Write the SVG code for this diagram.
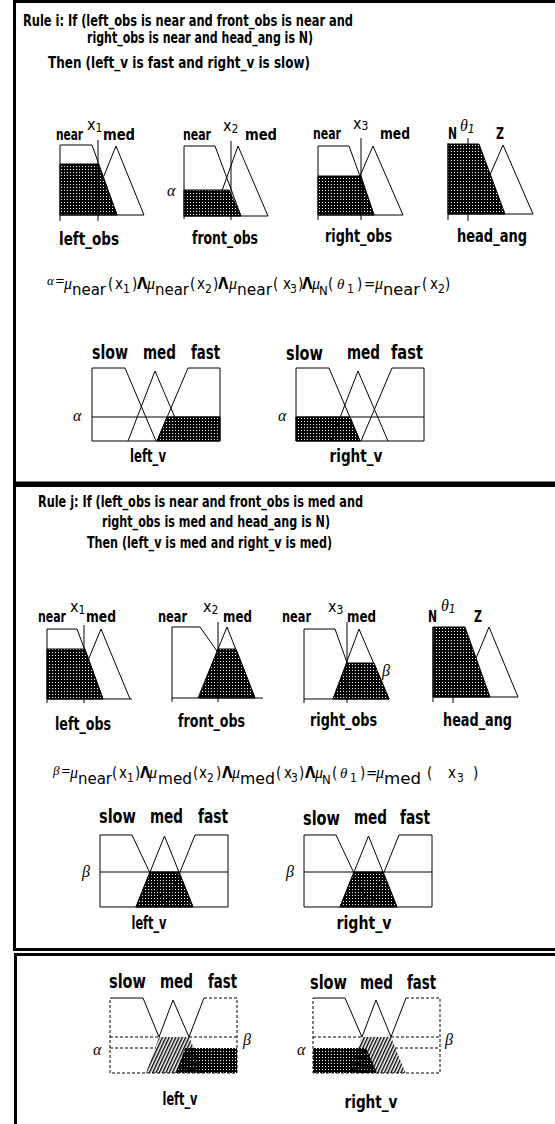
<svg xmlns="http://www.w3.org/2000/svg" width="555" height="1124" viewBox="0 0 555 1124">
<defs>
<style>
.b{font-family:"Liberation Sans Narrow","Arial Narrow","DejaVu Sans Condensed","Liberation Sans",sans-serif;font-weight:bold;fill:#000}
.r{font-family:"Liberation Sans Narrow","Arial Narrow","DejaVu Sans Condensed","Liberation Sans",sans-serif;font-weight:normal;fill:#000}
.gi{font-family:"Liberation Serif","DejaVu Serif",serif;font-style:italic;fill:#000}
.ln{fill:none;stroke:#000;stroke-width:1}
.dsh{fill:none;stroke:#000;stroke-width:1;stroke-dasharray:3 2}
.dot{fill:url(#dots);stroke:#000;stroke-width:1}
.hat{fill:url(#hatch);stroke:none}
.frame{fill:none;stroke:#000;stroke-width:3}
.m{text-anchor:middle}
</style>
<pattern id="dots" width="3" height="3" patternUnits="userSpaceOnUse"><rect width="3" height="3" fill="#000"/><rect x="1" y="1" width="1" height="1" fill="#fff"/></pattern>
<pattern id="hatch" width="3" height="3" patternUnits="userSpaceOnUse" patternTransform="rotate(25)"><rect width="1.4" height="3" fill="#000"/></pattern>
</defs>
<rect width="555" height="1124" fill="#fff"/>

<g id="frames">
<rect class="frame" x="14.5" y="1.5" width="600" height="481.5"/>
<rect class="frame" x="14.5" y="485.5" width="600" height="464"/>
<rect class="frame" x="15.5" y="954.5" width="600" height="300"/>
</g>

<!-- ================= PANEL 1 ================= -->
<g id="rule-i-text">
<text class="b" font-size="16" x="23" y="26" textLength="330" lengthAdjust="spacingAndGlyphs">Rule i: If (left_obs is near and front_obs is near and</text>
<text class="b" font-size="16" x="87" y="43" textLength="226" lengthAdjust="spacingAndGlyphs">right_obs is near and head_ang is N)</text>
<text class="b" font-size="16" x="48" y="68" textLength="262" lengthAdjust="spacingAndGlyphs">Then (left_v is fast and right_v is slow)</text>
</g>

<g id="p1-left-obs">
<polyline class="ln" points="88,215 116,146 144,215"/>
<polygon class="dot" points="60,164 98,164 117,215 60,215"/>
<polyline class="ln" points="60,145 92,145 117,215"/>
<line class="ln" x1="60" y1="145" x2="60" y2="221"/>
<line class="ln" x1="60" y1="215" x2="144" y2="215"/>
<line class="ln" x1="98" y1="140" x2="98" y2="221"/>
<text class="b" font-size="16" x="56" y="140" textLength="27" lengthAdjust="spacingAndGlyphs">near</text>
<text class="r" font-size="16" x="87" y="130">x<tspan font-size="12" dy="2">1</tspan></text>
<text class="b" font-size="16" x="103" y="140" textLength="32" lengthAdjust="spacingAndGlyphs">med</text>
<text class="b" font-size="17" x="59" y="245" textLength="60" lengthAdjust="spacingAndGlyphs">left_obs</text>
</g>

<g id="p1-front-obs">
<polyline class="ln" points="213,216 238,146 268,216"/>
<polygon class="dot" points="184,190 229,190 241,216 184,216"/>
<polyline class="ln" points="184,146 215,146 241,216"/>
<line class="ln" x1="184" y1="146" x2="184" y2="219"/>
<line class="ln" x1="184" y1="216" x2="268" y2="216"/>
<line class="ln" x1="231" y1="141" x2="231" y2="220"/>
<text class="gi" font-size="16" x="167" y="196">α</text>
<text class="b" font-size="16" x="183" y="140" textLength="28" lengthAdjust="spacingAndGlyphs">near</text>
<text class="r" font-size="16" x="223" y="131">x<tspan font-size="12" dy="2">2</tspan></text>
<text class="b" font-size="16" x="245" y="140" textLength="32" lengthAdjust="spacingAndGlyphs">med</text>
<text class="b" font-size="17" x="192" y="244" textLength="66" lengthAdjust="spacingAndGlyphs">front_obs</text>
</g>

<g id="p1-right-obs">
<polyline class="ln" points="343,215 373,146 403,215"/>
<polygon class="dot" points="318,176 361,176 374,215 318,215"/>
<polyline class="ln" points="318,146 349,146 374,215"/>
<line class="ln" x1="318" y1="146" x2="318" y2="220"/>
<line class="ln" x1="318" y1="215" x2="403" y2="215"/>
<line class="ln" x1="361" y1="138" x2="361" y2="220"/>
<text class="b" font-size="16" x="313" y="139" textLength="28" lengthAdjust="spacingAndGlyphs">near</text>
<text class="r" font-size="16" x="353" y="129">x<tspan font-size="12" dy="1">3</tspan></text>
<text class="b" font-size="16" x="380" y="139" textLength="30" lengthAdjust="spacingAndGlyphs">med</text>
<text class="b" font-size="17" x="325" y="242" textLength="67" lengthAdjust="spacingAndGlyphs">right_obs</text>
</g>

<g id="p1-head-ang">
<polyline class="ln" points="473,214 503,145 533,214"/>
<polygon class="dot" points="448,144 479,144 505,214 448,214"/>
<line class="ln" x1="448" y1="143" x2="448" y2="220"/>
<line class="ln" x1="448" y1="214" x2="533" y2="214"/>
<line class="ln" x1="468" y1="138" x2="468" y2="144"/>
<line class="ln" x1="468" y1="214" x2="468" y2="221"/>
<text class="b" font-size="16" x="448" y="139" textLength="9" lengthAdjust="spacingAndGlyphs">N</text>
<text class="gi" font-size="16" x="460" y="131">θ<tspan class="r" font-size="12" dy="2">1</tspan></text>
<text class="b" font-size="16" x="496" y="139" textLength="8" lengthAdjust="spacingAndGlyphs">Z</text>
<text class="b" font-size="17" x="457" y="242" textLength="70" lengthAdjust="spacingAndGlyphs">head_ang</text>
</g>

<g id="p1-formula">
<text class="gi" font-size="13" x="47" y="285">α</text><text class="r" font-size="13" x="55" y="285">=</text>
<text class="gi" font-size="16" x="64" y="289">μ</text>
<text class="r" font-size="15" x="72" y="295" textLength="34" lengthAdjust="spacingAndGlyphs">near</text>
<text class="r" font-size="15" x="108" y="289">(</text><text class="r" font-size="15" x="115" y="289">x</text><text class="r" font-size="12" x="123" y="293">1</text><text class="r" font-size="15" x="132" y="289">)</text>
<text class="b" font-size="15" x="137" y="289">Λ</text>
<text class="gi" font-size="16" x="147" y="289">μ</text>
<text class="r" font-size="15" x="155" y="295" textLength="34" lengthAdjust="spacingAndGlyphs">near</text>
<text class="r" font-size="15" x="190" y="289">(</text><text class="r" font-size="15" x="197" y="289">x</text><text class="r" font-size="12" x="205" y="293">2</text><text class="r" font-size="15" x="213" y="289">)</text>
<text class="b" font-size="15" x="218" y="289">Λ</text>
<text class="gi" font-size="16" x="229" y="289">μ</text>
<text class="r" font-size="15" x="237" y="295" textLength="35" lengthAdjust="spacingAndGlyphs">near</text>
<text class="r" font-size="15" x="273" y="289">(</text><text class="r" font-size="15" x="283" y="289">x</text><text class="r" font-size="12" x="290" y="293">3</text><text class="r" font-size="15" x="298" y="289">)</text>
<text class="b" font-size="15" x="302" y="289">Λ</text>
<text class="gi" font-size="16" x="312" y="289">μ</text>
<text class="r" font-size="13" x="319" y="295">N</text>
<text class="r" font-size="15" x="328" y="289">(</text><text class="gi" font-size="15" x="337" y="289">θ</text><text class="r" font-size="12" x="347" y="293">1</text><text class="r" font-size="15" x="357" y="289">)</text>
<text class="r" font-size="15" x="364" y="289">=</text>
<text class="gi" font-size="16" x="375" y="289">μ</text>
<text class="r" font-size="15" x="383" y="295" textLength="37" lengthAdjust="spacingAndGlyphs">near</text>
<text class="r" font-size="15" x="422" y="289">(</text><text class="r" font-size="15" x="430" y="289">x</text><text class="r" font-size="12" x="438" y="293">2</text><text class="r" font-size="15" x="445" y="289">)</text>
</g>

<g id="p1-left-v">
<polygon class="dot" points="157,441 167,417 220,417 220,441"/>
<polyline class="ln" points="92,368 125,368 156,441"/>
<polyline class="ln" points="128,441 155,371 185,441"/>
<polyline class="ln" points="157,441 188,368 220,368"/>
<line class="ln" x1="92" y1="368" x2="92" y2="441"/>
<line class="ln" x1="220" y1="368" x2="220" y2="441"/>
<line class="ln" x1="92" y1="441" x2="220" y2="441"/>
<line class="ln" x1="92" y1="417" x2="220" y2="417"/>
<text class="gi" font-size="16" x="73" y="421">α</text>
<text class="b" font-size="20" x="92" y="359" textLength="36" lengthAdjust="spacingAndGlyphs">slow</text>
<text class="b" font-size="20" x="143" y="359" textLength="33" lengthAdjust="spacingAndGlyphs">med</text>
<text class="b" font-size="20" x="191" y="359" textLength="29" lengthAdjust="spacingAndGlyphs">fast</text>
<text class="b m" font-size="18" x="148" y="462" textLength="36" lengthAdjust="spacingAndGlyphs">left_v</text>
</g>

<g id="p1-right-v">
<polygon class="dot" points="296,417 350,417 360,441 296,441"/>
<polyline class="ln" points="296,368 329,368 360,441"/>
<polyline class="ln" points="331,441 358,371 388,441"/>
<polyline class="ln" points="361,441 392,368 424,368"/>
<line class="ln" x1="296" y1="368" x2="296" y2="441"/>
<line class="ln" x1="424" y1="368" x2="424" y2="441"/>
<line class="ln" x1="296" y1="441" x2="424" y2="441"/>
<line class="ln" x1="296" y1="417" x2="424" y2="417"/>
<text class="gi" font-size="16" x="278" y="421">α</text>
<text class="b" font-size="20" x="286" y="360" textLength="37" lengthAdjust="spacingAndGlyphs">slow</text>
<text class="b" font-size="20" x="347" y="359" textLength="33" lengthAdjust="spacingAndGlyphs">med</text>
<text class="b" font-size="20" x="391" y="359" textLength="32" lengthAdjust="spacingAndGlyphs">fast</text>
<text class="b m" font-size="18" x="356" y="462" textLength="53" lengthAdjust="spacingAndGlyphs">right_v</text>
</g>

<!-- ================= PANEL 2 ================= -->
<g id="rule-j-text">
<text class="b" font-size="16" x="38" y="507" textLength="325" lengthAdjust="spacingAndGlyphs">Rule j: If (left_obs is near and front_obs is med and</text>
<text class="b" font-size="16" x="102" y="527" textLength="228" lengthAdjust="spacingAndGlyphs">right_obs is med and head_ang is N)</text>
<text class="b" font-size="16" x="87" y="548" textLength="245" lengthAdjust="spacingAndGlyphs">Then (left_v is med and right_v is med)</text>
</g>

<g id="p2-left-obs">
<polyline class="ln" points="72,699 101,629 130,699"/>
<polygon class="dot" points="47,649 85,649 103,699 47,699"/>
<polyline class="ln" points="47,629 77,629 103,699"/>
<line class="ln" x1="47" y1="629" x2="47" y2="703"/>
<line class="ln" x1="47" y1="699" x2="132" y2="699"/>
<line class="ln" x1="84" y1="625" x2="84" y2="703"/>
<text class="b" font-size="16" x="38" y="622" textLength="28" lengthAdjust="spacingAndGlyphs">near</text>
<text class="r" font-size="16" x="70" y="612">x<tspan font-size="12" dy="2">1</tspan></text>
<text class="b" font-size="16" x="86" y="622" textLength="30" lengthAdjust="spacingAndGlyphs">med</text>
<text class="b" font-size="17" x="55" y="730" textLength="56" lengthAdjust="spacingAndGlyphs">left_obs</text>
</g>

<g id="p2-front-obs">
<polyline class="ln" points="172,627 200,627 250,698"/>
<polyline class="ln" points="198,698 227,627 255,698"/>
<polygon class="dot" points="218,649 236,649 255,698 199,698"/>
<line class="ln" x1="172" y1="627" x2="172" y2="702"/>
<line class="ln" x1="172" y1="698" x2="263" y2="698"/>
<line class="ln" x1="218" y1="622" x2="218" y2="702"/>
<text class="b" font-size="16" x="158" y="622" textLength="29" lengthAdjust="spacingAndGlyphs">near</text>
<text class="r" font-size="16" x="203" y="612">x<tspan font-size="12" dy="2">2</tspan></text>
<text class="b" font-size="16" x="223" y="622" textLength="29" lengthAdjust="spacingAndGlyphs">med</text>
<text class="b" font-size="17" x="178" y="727" textLength="67" lengthAdjust="spacingAndGlyphs">front_obs</text>
</g>

<g id="p2-right-obs">
<polyline class="ln" points="304,629 335,629 360,699"/>
<polyline class="ln" points="333,699 359,629 389,699"/>
<polygon class="dot" points="347,663 374,663 389,699 333,699"/>
<line class="ln" x1="304" y1="629" x2="304" y2="703"/>
<line class="ln" x1="304" y1="699" x2="389" y2="699"/>
<line class="ln" x1="347" y1="622" x2="347" y2="703"/>
<text class="gi" font-size="16" x="382" y="676">β</text>
<text class="b" font-size="16" x="282" y="622" textLength="29" lengthAdjust="spacingAndGlyphs">near</text>
<text class="r" font-size="16" x="328" y="612">x<tspan font-size="12" dy="2">3</tspan></text>
<text class="b" font-size="16" x="347" y="622" textLength="29" lengthAdjust="spacingAndGlyphs">med</text>
<text class="b" font-size="17" x="310" y="726" textLength="67" lengthAdjust="spacingAndGlyphs">right_obs</text>
</g>

<g id="p2-head-ang">
<polyline class="ln" points="460,697 489,627 518,697"/>
<polygon class="dot" points="433,627 465,627 490,697 433,697"/>
<line class="ln" x1="433" y1="627" x2="433" y2="702"/>
<line class="ln" x1="433" y1="697" x2="518" y2="697"/>
<line class="ln" x1="453" y1="697" x2="453" y2="703"/>
<text class="b" font-size="16" x="428" y="622" textLength="9" lengthAdjust="spacingAndGlyphs">N</text>
<text class="gi" font-size="16" x="441" y="611">θ<tspan class="r" font-size="12" dy="2">1</tspan></text>
<text class="b" font-size="16" x="474" y="622" textLength="8" lengthAdjust="spacingAndGlyphs">Z</text>
<text class="b" font-size="17" x="443" y="726" textLength="69" lengthAdjust="spacingAndGlyphs">head_ang</text>
</g>

<g id="p2-formula">
<text class="gi" font-size="13" x="53" y="775">β</text><text class="r" font-size="13" x="61" y="775">=</text>
<text class="gi" font-size="16" x="70" y="778">μ</text>
<text class="r" font-size="15" x="78" y="784" textLength="34" lengthAdjust="spacingAndGlyphs">near</text>
<text class="r" font-size="15" x="112" y="778">(</text><text class="r" font-size="15" x="119" y="778">x</text><text class="r" font-size="12" x="127" y="782">1</text><text class="r" font-size="15" x="135" y="778">)</text>
<text class="b" font-size="15" x="140" y="778">Λ</text>
<text class="gi" font-size="16" x="149" y="778">μ</text>
<text class="r" font-size="15" x="158" y="784" textLength="34" lengthAdjust="spacingAndGlyphs">med</text>
<text class="r" font-size="15" x="193" y="778">(</text><text class="r" font-size="15" x="199" y="778">x</text><text class="r" font-size="12" x="207" y="782">2</text><text class="r" font-size="15" x="216" y="778">)</text>
<text class="b" font-size="15" x="222" y="778">Λ</text>
<text class="gi" font-size="16" x="232" y="778">μ</text>
<text class="r" font-size="15" x="240" y="784" textLength="35" lengthAdjust="spacingAndGlyphs">med</text>
<text class="r" font-size="15" x="276" y="778">(</text><text class="r" font-size="15" x="284" y="778">x</text><text class="r" font-size="12" x="291" y="782">3</text><text class="r" font-size="15" x="299" y="778">)</text>
<text class="b" font-size="15" x="305" y="778">Λ</text>
<text class="gi" font-size="16" x="315" y="778">μ</text>
<text class="r" font-size="13" x="322" y="784">N</text>
<text class="r" font-size="15" x="332" y="778">(</text><text class="gi" font-size="15" x="340" y="778">θ</text><text class="r" font-size="12" x="350" y="782">1</text><text class="r" font-size="15" x="360" y="778">)</text>
<text class="r" font-size="15" x="366" y="778">=</text>
<text class="gi" font-size="16" x="376" y="778">μ</text>
<text class="r" font-size="15" x="384" y="784" textLength="37" lengthAdjust="spacingAndGlyphs">med</text>
<text class="r" font-size="15" x="427" y="778">(</text><text class="r" font-size="15" x="448" y="778">x</text><text class="r" font-size="12" x="457" y="782">3</text><text class="r" font-size="15" x="473" y="778">)</text>
</g>

<g id="p2-left-v">
<polygon class="dot" points="150,872 179,872 193,907 136,907"/>
<polyline class="ln" points="100,835 132,835 166,907"/>
<polyline class="ln" points="136,907 164.5,836 193,907"/>
<polyline class="ln" points="166,907 195,835 228,835"/>
<line class="ln" x1="100" y1="835" x2="100" y2="907"/>
<line class="ln" x1="228" y1="835" x2="228" y2="907"/>
<line class="ln" x1="100" y1="907" x2="228" y2="907"/>
<line class="ln" x1="100" y1="872" x2="228" y2="872"/>
<text class="gi" font-size="16" x="82" y="877">β</text>
<text class="b" font-size="20" x="99" y="823" textLength="37" lengthAdjust="spacingAndGlyphs">slow</text>
<text class="b" font-size="20" x="150" y="823" textLength="33" lengthAdjust="spacingAndGlyphs">med</text>
<text class="b" font-size="20" x="198" y="823" textLength="30" lengthAdjust="spacingAndGlyphs">fast</text>
<text class="b m" font-size="18" x="149" y="929" textLength="35" lengthAdjust="spacingAndGlyphs">left_v</text>
</g>

<g id="p2-right-v">
<polygon class="dot" points="354,872 383,872 397,907 340,907"/>
<polyline class="ln" points="304,835 336,835 370,907"/>
<polyline class="ln" points="340,907 368.5,836 397,907"/>
<polyline class="ln" points="370,907 399,835 432,835"/>
<line class="ln" x1="304" y1="835" x2="304" y2="907"/>
<line class="ln" x1="432" y1="835" x2="432" y2="907"/>
<line class="ln" x1="304" y1="907" x2="432" y2="907"/>
<line class="ln" x1="304" y1="872" x2="432" y2="872"/>
<text class="gi" font-size="16" x="286" y="877">β</text>
<text class="b" font-size="20" x="303" y="825" textLength="37" lengthAdjust="spacingAndGlyphs">slow</text>
<text class="b" font-size="20" x="354" y="824" textLength="33" lengthAdjust="spacingAndGlyphs">med</text>
<text class="b" font-size="20" x="400" y="824" textLength="30" lengthAdjust="spacingAndGlyphs">fast</text>
<text class="b m" font-size="18" x="364" y="929" textLength="55" lengthAdjust="spacingAndGlyphs">right_v</text>
</g>

<!-- ================= PANEL 3 ================= -->
<g id="p3-left-v">
<polygon points="176,1073 185,1048 237,1048 237,1073" fill="url(#dots)"/>
<polygon class="hat" points="146,1073 159,1037 189,1037 205,1073"/>
<polyline class="ln" points="110,998 143,998 159,1037"/>
<polyline class="ln" points="159,1037 173,1000 189,1037"/>
<polyline class="ln" points="189,1037 204,998"/>
<polyline class="dsh" points="204,998 237,998 237,1073 110,1073 110,998"/>
<line class="dsh" x1="110" y1="1037" x2="159" y2="1037"/>
<line class="dsh" x1="189" y1="1037" x2="237" y2="1037"/>
<line class="dsh" x1="110" y1="1048" x2="156" y2="1048"/>
<text class="gi" font-size="16" x="93" y="1055">α</text>
<text class="gi" font-size="16" x="243" y="1045">β</text>
<text class="b" font-size="20" x="109" y="988" textLength="37" lengthAdjust="spacingAndGlyphs">slow</text>
<text class="b" font-size="20" x="160" y="988" textLength="33" lengthAdjust="spacingAndGlyphs">med</text>
<text class="b" font-size="20" x="208" y="988" textLength="29" lengthAdjust="spacingAndGlyphs">fast</text>
<text class="b m" font-size="18" x="180" y="1105" textLength="35" lengthAdjust="spacingAndGlyphs">left_v</text>
</g>

<g id="p3-right-v">
<polygon points="313,1048 366,1048 377,1073 313,1073" fill="url(#dots)"/>
<polygon class="hat" points="348.5,1073 362,1037 391,1037 405.5,1073"/>
<polyline class="ln" points="313,998 345,998 362,1037"/>
<polyline class="ln" points="362,1037 376,1000 391,1037"/>
<polyline class="ln" points="391,1037 406,998"/>
<polyline class="dsh" points="406,998 440,998 440,1073 313,1073 313,998"/>
<line class="dsh" x1="313" y1="1037" x2="362" y2="1037"/>
<line class="dsh" x1="391" y1="1037" x2="440" y2="1037"/>
<line class="dsh" x1="395" y1="1048" x2="440" y2="1048"/>
<text class="gi" font-size="16" x="297" y="1055">α</text>
<text class="gi" font-size="16" x="445" y="1045">β</text>
<text class="b" font-size="20" x="310" y="989" textLength="37" lengthAdjust="spacingAndGlyphs">slow</text>
<text class="b" font-size="20" x="360" y="989" textLength="33" lengthAdjust="spacingAndGlyphs">med</text>
<text class="b" font-size="20" x="407" y="989" textLength="29" lengthAdjust="spacingAndGlyphs">fast</text>
<text class="b m" font-size="18" x="371" y="1108" textLength="53" lengthAdjust="spacingAndGlyphs">right_v</text>
</g>
</svg>
